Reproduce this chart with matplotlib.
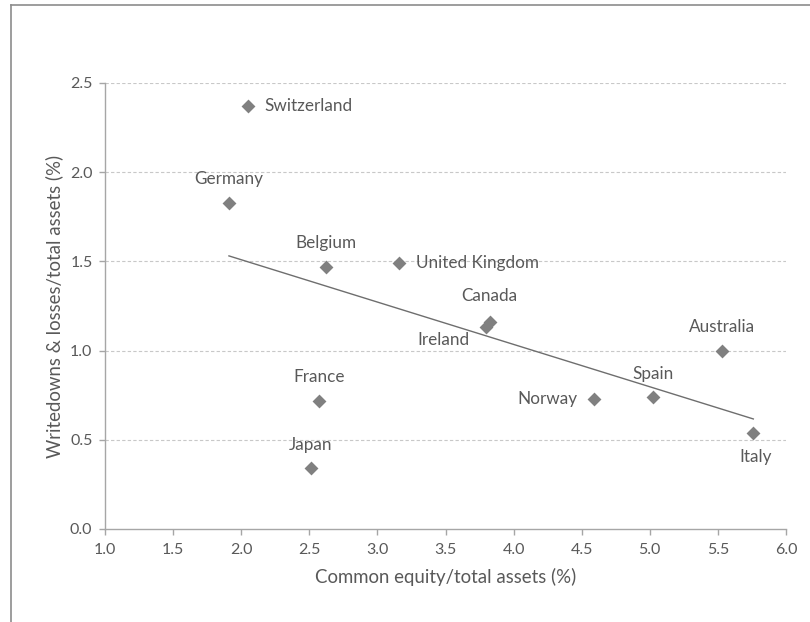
import numpy as np
import matplotlib
matplotlib.use("Agg")
import matplotlib.pyplot as plt
from matplotlib.lines import Line2D

countries = ["Switzerland", "Germany", "Belgium", "United Kingdom", "Canada",
             "Ireland", "Australia", "Spain", "Norway", "Italy", "France", "Japan"]
equity = [2.05, 1.91, 2.62, 3.16, 3.83, 3.80, 5.53, 5.02, 4.59, 5.76, 2.57, 2.51]
writedowns = [2.37, 1.83, 1.47, 1.49, 1.16, 1.13, 1.00, 0.74, 0.73, 0.54, 0.72, 0.34]

x_ticks = [1.0, 1.5, 2.0, 2.5, 3.0, 3.5, 4.0, 4.5, 5.0, 5.5, 6.0]
y_ticks = [0.0, 0.5, 1.0, 1.5, 2.0, 2.5]

# label placement: (dx, dy) in points, ha, va
label_pos = {
    "Switzerland": ((12, 0), "left", "center"),
    "Germany": ((0, 11), "center", "bottom"),
    "Belgium": ((0, 11), "center", "bottom"),
    "United Kingdom": ((12, 0), "left", "center"),
    "Canada": ((-1, 13), "center", "bottom"),
    "Ireland": ((-12, -3), "right", "top"),
    "Australia": ((0, 11), "center", "bottom"),
    "Spain": ((0, 11), "center", "bottom"),
    "Norway": ((-12, 0), "right", "center"),
    "Italy": ((2, -12), "center", "top"),
    "France": ((0, 11), "center", "bottom"),
    "Japan": ((0, 11), "center", "bottom"),
}

plt.rcParams["font.family"] = ["Lato", "DejaVu Sans"]
text_color = "#595959"
axis_color = "#a6a6a6"

fig = plt.figure(figsize=(8.1, 6.22), dpi=100)
ax = fig.add_axes([105 / 810, 1 - 529 / 622, 681 / 810, 446 / 622])

ax.scatter(equity, writedowns, marker="D", s=50, color="#808080", zorder=3,
           linewidths=0)

# least-squares trend line across the range of the data
slope, intercept = np.polyfit(equity, writedowns, 1)
xs = np.array([min(equity), max(equity)])
ax.plot(xs, slope * xs + intercept, color="#6e6e6e", lw=1.0, zorder=2)

for name, xv, yv in zip(countries, equity, writedowns):
    (dx, dy), ha, va = label_pos[name]
    ax.annotate(name, (xv, yv), xytext=(dx, dy), textcoords="offset points",
                ha=ha, va=va, fontsize=12.3, color=text_color)

ax.set_xlim(1.0, 6.0)
ax.set_ylim(0.0, 2.5)
ax.set_xticks(x_ticks)
ax.set_yticks(y_ticks)
ax.set_xticklabels([f"{v:.1f}" for v in x_ticks])
ax.set_yticklabels([f"{v:.1f}" for v in y_ticks])
ax.tick_params(axis="both", colors=axis_color, labelcolor=text_color,
               labelsize=11.5, length=4, width=1, direction="out")
ax.tick_params(axis="y", pad=5)
ax.tick_params(axis="x", pad=6)

for yv in y_ticks[1:]:
    ax.axhline(yv, color="#c8c8c8", lw=0.8, ls=(0, (3, 2)), zorder=1)

for side in ["top", "right"]:
    ax.spines[side].set_visible(False)
for side in ["left", "bottom"]:
    ax.spines[side].set_color(axis_color)
    ax.spines[side].set_linewidth(1.0)

ax.set_xlabel("Common equity/total assets (%)", fontsize=13.4, color=text_color,
              labelpad=8)
ax.set_ylabel("Writedowns & losses/total assets (%)", fontsize=13.4,
              color=text_color, labelpad=5)

# outer frame along the top and left edges
fig.add_artist(Line2D([10.5 / 810, 10.5 / 810], [0, 1 - 4.5 / 622],
                      transform=fig.transFigure, color="#8c8c8c", lw=1.2))
fig.add_artist(Line2D([10.5 / 810, 1], [1 - 4.5 / 622, 1 - 4.5 / 622],
                      transform=fig.transFigure, color="#8c8c8c", lw=1.2))

fig.savefig("out.png", dpi=100, facecolor="white")
